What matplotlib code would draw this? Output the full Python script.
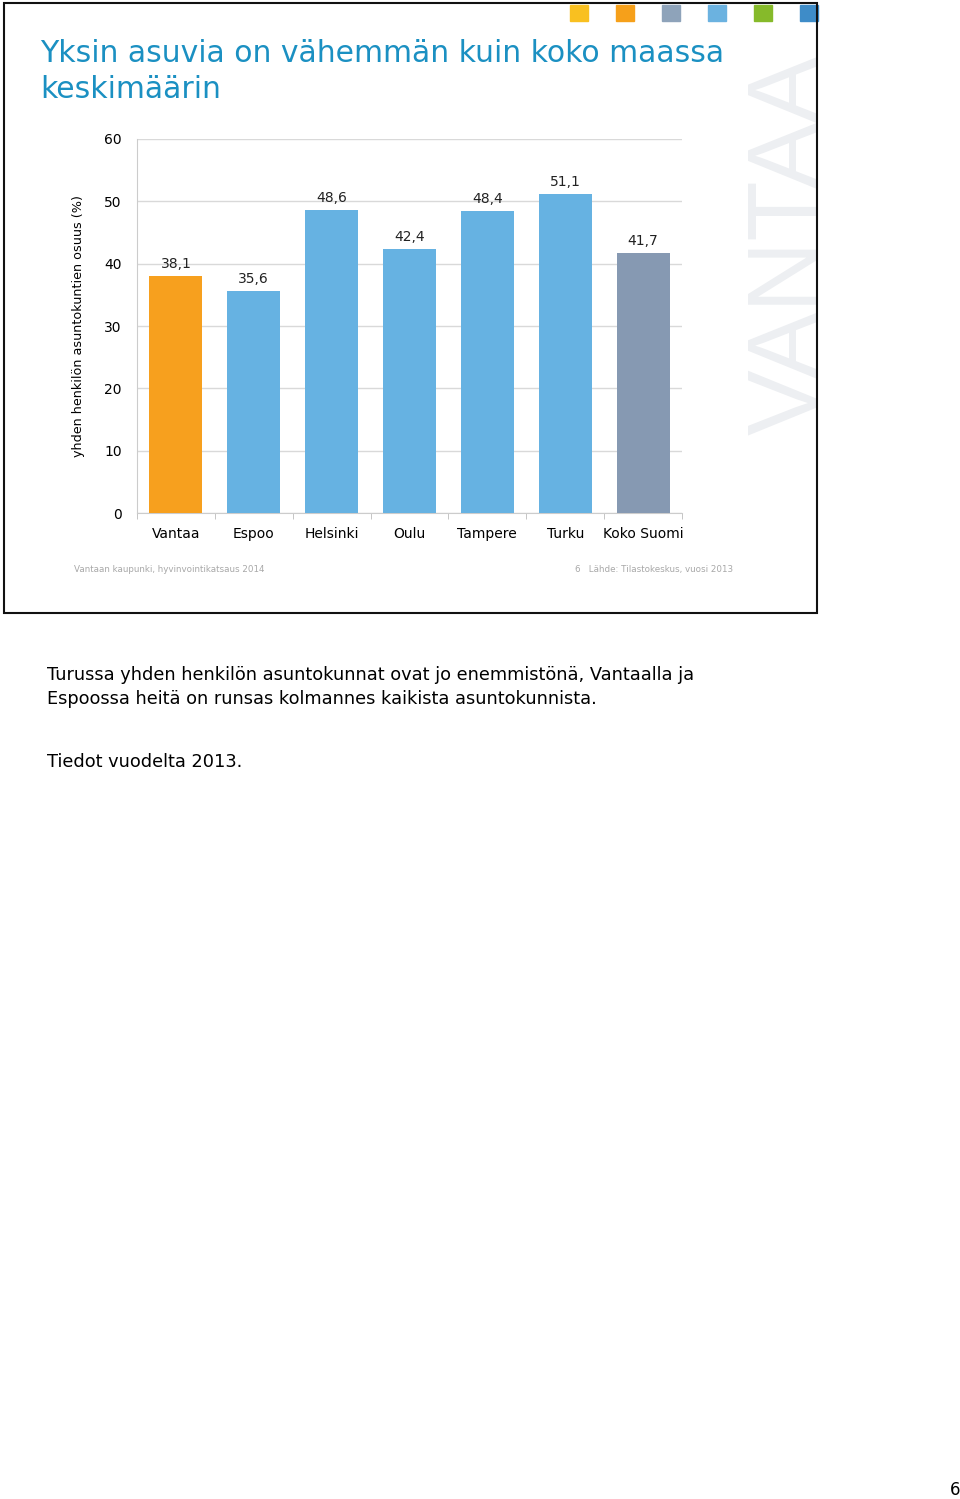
import matplotlib
matplotlib.use("Agg")
import matplotlib.pyplot as plt
from matplotlib.patches import Rectangle

# chart data
kunnat = ["Vantaa", "Espoo", "Helsinki", "Oulu", "Tampere", "Turku", "Koko Suomi"]
osuus = [38.1, 35.6, 48.6, 42.4, 48.4, 51.1, 41.7]
varit = ["#F7A01E", "#66B2E2", "#66B2E2", "#66B2E2", "#66B2E2", "#66B2E2", "#8699B2"]
y_ticks = [0, 10, 20, 30, 40, 50, 60]

# decoration squares at top of the slide
neliot = ["#F9C020", "#F6A01A", "#8EA3BA", "#6BB2E0", "#86BA2A", "#3E8CC8"]

W, H = 960, 1499
fig = plt.figure(figsize=(W / 100, H / 100), dpi=100)

def fx(px):
    return px / W

def fy(py):
    return 1 - py / H

# slide frame
frame = Rectangle((fx(4), fy(613)), fx(813), 610 / H, transform=fig.transFigure,
                  fill=False, edgecolor="#111111", linewidth=1.5, zorder=5)
fig.patches.append(frame)

for i, c in enumerate(neliot):
    x0 = 570 + i * 46
    fig.patches.append(Rectangle((fx(x0), fy(21)), fx(18), 16 / H,
                                 transform=fig.transFigure, color=c, zorder=4))

# watermark
wm = fig.text(fx(791), fy(245), "VANTAA", rotation=90, ha="center", va="center",
              fontsize=71, color="#EDEFF2", family="Liberation Sans", zorder=0)
clip = Rectangle((fx(4), fy(613)), fx(813), 610 / H, transform=fig.transFigure)
wm.set_clip_path(clip)

# title
fig.text(fx(40), fy(54), "Yksin asuvia on vähemmän kuin koko maassa",
         ha="left", va="center", fontsize=21.5, color="#1B90C2")
fig.text(fx(40), fy(90), "keskimäärin",
         ha="left", va="center", fontsize=21.5, color="#1B90C2")

# bar chart
ax = fig.add_axes([fx(137), fy(513), fx(682 - 137), (513 - 139) / H])
x = range(len(kunnat))
bars = ax.bar(x, osuus, width=0.68, color=varit, zorder=3)
for b, v in zip(bars, osuus):
    ax.text(b.get_x() + b.get_width() / 2, v + 0.8, f"{v:.1f}".replace(".", ","),
            ha="center", va="bottom", fontsize=10, color="#222222")

ax.set_xlim(-0.5, len(kunnat) - 0.5)
ax.set_ylim(0, 60)
ax.set_yticks(y_ticks)
ax.set_xticks(list(x))
ax.set_xticklabels(kunnat)
ax.set_xticks([i - 0.5 for i in range(len(kunnat) + 1)], minor=True)
ax.tick_params(axis="x", which="major", length=0, pad=10, labelsize=10)
ax.tick_params(axis="x", which="minor", length=4, color="#BBBBBB")
ax.tick_params(axis="y", length=0, pad=11, labelsize=10)
ax.grid(axis="y", color="#D9D9D9", linewidth=1, zorder=0)
for s in ["top", "right"]:
    ax.spines[s].set_visible(False)
ax.spines["left"].set_color("#CCCCCC")
ax.spines["bottom"].set_color("#CCCCCC")
ax.set_ylabel("yhden henkilön asuntokuntien osuus (%)", fontsize=9.2, labelpad=14)

# slide footer
fig.text(fx(74), fy(570), "Vantaan kaupunki, hyvinvointikatsaus 2014", ha="left",
         va="center", fontsize=6.3, color="#A8A8A8")
fig.text(fx(733), fy(570), "6   Lähde: Tilastokeskus, vuosi 2013", ha="right",
         va="center", fontsize=6.3, color="#A8A8A8")

# text below the slide
fig.text(fx(47), fy(675), "Turussa yhden henkilön asuntokunnat ovat jo enemmistönä, Vantaalla ja",
         ha="left", va="center", fontsize=12.8, color="#000000")
fig.text(fx(47), fy(699), "Espoossa heitä on runsas kolmannes kaikista asuntokunnista.",
         ha="left", va="center", fontsize=12.8, color="#000000")
fig.text(fx(47), fy(762), "Tiedot vuodelta 2013.", ha="left", va="center",
         fontsize=12.8, color="#000000")
fig.text(fx(960), fy(1490), "6", ha="right", va="center", fontsize=12, color="#000000")

fig.savefig("out.png", dpi=100)
